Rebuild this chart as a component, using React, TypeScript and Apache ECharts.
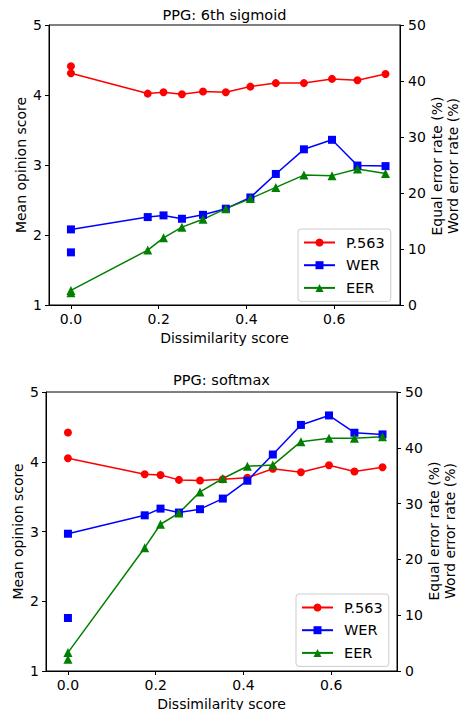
import React, { useEffect, useRef } from "react";
import * as echarts from "echarts";

const xs = [0, 0.175, 0.211, 0.253, 0.301, 0.353, 0.409, 0.467, 0.531, 0.595, 0.653, 0.717];
const xTicks = [0, 0.2, 0.4, 0.6];

// PPG: 6th sigmoid
const sigP563 = [4.31, 4.02, 4.04, 4.01, 4.05, 4.04, 4.12, 4.17, 4.17, 4.23, 4.21, 4.3];
const sigWER = [13.5, 15.7, 16.0, 15.4, 16.1, 17.2, 19.2, 23.4, 27.8, 29.5, 24.9, 24.8];
const sigEER = [2.6, 9.8, 12.0, 13.9, 15.3, 17.2, 19.0, 21.0, 23.2, 23.1, 24.3, 23.5];
const sigRefP563 = [4.41];
const sigRefWER = [9.4];
const sigRefEER = [2.2];

// PPG: softmax
const softP563 = [4.05, 3.82, 3.81, 3.74, 3.73, 3.75, 3.77, 3.9, 3.85, 3.95, 3.86, 3.92];
const softWER = [24.6, 27.9, 29.1, 28.4, 29.0, 30.9, 34.1, 38.8, 44.1, 45.8, 42.7, 42.4];
const softEER = [3.3, 22.1, 26.3, 28.3, 32.1, 34.5, 36.7, 36.9, 41.1, 41.7, 41.7, 42.0];
const softRefP563 = [4.42];
const softRefWER = [9.5];
const softRefEER = [2.1];
const refX = [0];

const titles = ["PPG: 6th sigmoid", "PPG: softmax"];
const legendNames = ["P.563", "WER", "EER"];
const rightAxisName = "Equal error rate (%)\nWord error rate (%)";

const FONT = "DejaVu Sans";
const RED = "#ff0000";
const BLUE = "#0000ff";
const GREEN = "#008000";

const pair = (x: number[], y: number[]) => x.map((v, i) => [v, y[i]]);

export default function App() {
  const ref = useRef<HTMLDivElement>(null);
  useEffect(() => {
    if (!ref.current) return;
    const chart = echarts.init(ref.current, null, { renderer: "svg" });
    const grids = [
      { left: 49, top: 25, right: 63, height: 280 },
      { left: 46, top: 392, right: 66, height: 279 },
    ];
    const axisCommon = {
      axisLine: { show: true, onZero: false, lineStyle: { color: "#000", width: 1 } },
      axisTick: { show: true, length: 4, lineStyle: { color: "#000" } },
      axisLabel: { color: "#000", fontSize: 14, fontFamily: FONT },
      splitLine: { show: false },
      nameMoveOverlap: false,
      nameTextStyle: { color: "#000", fontSize: 14, fontFamily: FONT },
    };
    const xAxis = [0, 1].map((g) => ({
      ...axisCommon,
      gridIndex: g,
      type: "value",
      min: -0.05,
      max: 0.75,
      name: "Dissimilarity score",
      nameLocation: "middle",
      nameGap: 26,
      axisTick: { ...axisCommon.axisTick, customValues: xTicks },
      axisLabel: {
        ...axisCommon.axisLabel,
        margin: 7,
        customValues: xTicks,
        formatter: (v: number) => v.toFixed(1),
      },
    }));
    const yAxis: any[] = [];
    [0, 1].forEach((g) => {
      yAxis.push({
        ...axisCommon,
        gridIndex: g,
        type: "value",
        position: "left",
        min: 1,
        max: 5,
        interval: 1,
        name: "Mean opinion score",
        nameLocation: "middle",
        nameGap: 21,
        axisLabel: { ...axisCommon.axisLabel, margin: 7 },
      });
      yAxis.push({
        ...axisCommon,
        gridIndex: g,
        type: "value",
        position: "right",
        min: 0,
        max: 50,
        interval: 10,
        axisLabel: { ...axisCommon.axisLabel, margin: 8 },
      });
    });

    const lineSeries = (name: string, g: number, yi: number, data: number[], color: string, symbol: string, size: number) => ({
      name,
      type: "line",
      xAxisIndex: g,
      yAxisIndex: yi,
      data: pair(xs, data),
      symbol,
      symbolSize: size,
      showSymbol: true,
      color,
      lineStyle: { color, width: 1.5 },
      itemStyle: { color, opacity: 1 },
    });
    const refSeries = (name: string, g: number, yi: number, data: number[], color: string, symbol: string, size: number) => ({
      name,
      type: "scatter",
      xAxisIndex: g,
      yAxisIndex: yi,
      data: pair(refX, data),
      symbol,
      symbolSize: size,
      itemStyle: { color, opacity: 1 },
    });

    const series = [
      refSeries("P.563 ref", 0, 0, sigRefP563, RED, "circle", 8),
      refSeries("WER ref", 0, 1, sigRefWER, BLUE, "rect", 8),
      refSeries("EER ref", 0, 1, sigRefEER, GREEN, "triangle", 9),
      lineSeries("P.563", 0, 0, sigP563, RED, "circle", 8),
      lineSeries("WER", 0, 1, sigWER, BLUE, "rect", 8),
      lineSeries("EER", 0, 1, sigEER, GREEN, "triangle", 9),
      refSeries("P.563 ref", 1, 2, softRefP563, RED, "circle", 8),
      refSeries("WER ref", 1, 3, softRefWER, BLUE, "rect", 8),
      refSeries("EER ref", 1, 3, softRefEER, GREEN, "triangle", 9),
      lineSeries("P.563", 1, 2, softP563, RED, "circle", 8),
      lineSeries("WER", 1, 3, softWER, BLUE, "rect", 8),
      lineSeries("EER", 1, 3, softEER, GREEN, "triangle", 9),
    ];

    const legendCommon = {
      orient: "vertical",
      data: legendNames,
      itemWidth: 31,
      itemHeight: 10,
      itemGap: 7.7,
      padding: [6, 6, 6, 5],
      borderColor: "#cccccc",
      borderWidth: 1,
      borderRadius: 3,
      backgroundColor: "rgba(255,255,255,0.8)",
      textStyle: { color: "#000", fontSize: 14.5, fontFamily: FONT, padding: [0, 0, 0, 6], height: 14 },
      selectedMode: false,
    };

    const rightName = (x: number, y: number) => ({
      type: "text",
      x,
      y,
      rotation: Math.PI / 2,
      style: {
        text: rightAxisName,
        fontSize: 14,
        lineHeight: 16,
        fontFamily: FONT,
        fill: "#000",
        textAlign: "center",
        textVerticalAlign: "middle",
      },
    });

    chart.setOption({
      animation: false,
      grid: grids.map((g) => ({
        ...g,
        show: true,
        borderColor: "#000",
        borderWidth: 1,
        backgroundColor: "transparent",
        containLabel: false,
        outerBoundsMode: "none",
      })),
      xAxis,
      yAxis,
      series,
      legend: [
        { ...legendCommon, left: 298, top: 229 },
        { ...legendCommon, left: 296, top: 594 },
      ],
      graphic: [
        {
          type: "text",
          x: 224.5,
          y: 15,
          style: { text: titles[0], fontSize: 14.5, fontFamily: FONT, fill: "#000", textAlign: "center", textVerticalAlign: "middle" },
        },
        {
          type: "text",
          x: 221.5,
          y: 380,
          style: { text: titles[1], fontSize: 14.5, fontFamily: FONT, fill: "#000", textAlign: "center", textVerticalAlign: "middle" },
        },
        rightName(445, 166),
        rightName(442, 531),
      ],
    });
    return () => chart.dispose();
  }, []);
  return <div ref={ref} style={{ width: 463, height: 710, position: "absolute", left: 0, top: 0 }} />;
}
